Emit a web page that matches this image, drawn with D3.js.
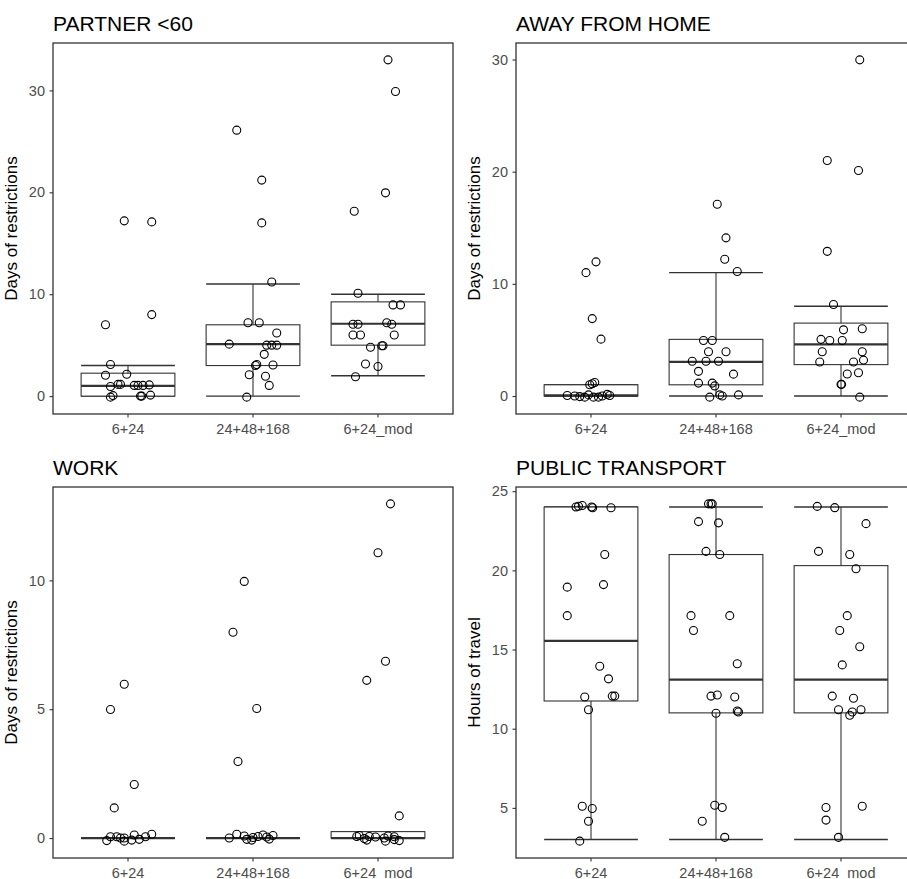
<!DOCTYPE html>
<html>
<head>
<meta charset="utf-8">
<script src="https://cdn.jsdelivr.net/npm/d3@7"></script>
<style>
  body { margin: 0; background: #fff; }
  svg text { font-family: "Liberation Sans", Arial, sans-serif; }
</style>
</head>
<body>
<div id="canvas"></div>
<script>
// categories shared by all four panels
const groups = ["6+24", "24+48+168", "6+24_mod"];

// PARTNER <60 : values and horizontal jitter (in category widths)
const partnerVals = [
  [17.2, 17.1, 7.0, 8.0, 3.1, 2.05, 2.15, 0.95, 1.15, 1.15, 1.05, 1.05, 1.05, 1.1, -0.1, 0.05, 0.0, 0.0, 0.1],
  [26.1, 21.2, 17.0, 11.2, 7.2, 7.2, 6.2, 5.1, 5.0, 5.0, 5.0, 4.1, 3.0, 3.1, 3.05, 2.1, 1.95, 1.05, -0.1],
  [33.0, 29.9, 19.95, 18.15, 10.1, 8.95, 8.95, 7.05, 7.05, 7.2, 7.05, 6.0, 6.0, 6.0, 4.8, 4.95, 4.95, 3.15, 2.9, 1.9]
];
const partnerJit = [
  [-0.03, 0.19, -0.18, 0.19, -0.14, -0.18, -0.01, -0.14, -0.08, -0.06, 0.05, 0.08, 0.12, 0.17, -0.14, -0.12, 0.10, 0.11, 0.18],
  [-0.13, 0.07, 0.07, 0.15, -0.04, 0.05, 0.19, -0.19, 0.11, 0.15, 0.19, 0.09, 0.02, 0.03, 0.16, -0.03, 0.10, 0.13, -0.05],
  [0.08, 0.14, 0.06, -0.19, -0.16, 0.12, 0.18, -0.2, -0.16, 0.07, 0.11, -0.2, -0.14, 0.13, -0.06, 0.03, 0.04, -0.1, 0.0, -0.18]
];
// [lower whisker, q1, median, q3, upper whisker]
const partnerBox = [[0, 0, 1, 2.25, 3], [0, 3, 5.1, 7, 11], [2, 5, 7.1, 9.25, 10]];

// AWAY FROM HOME
const awayVals = [
  [11.96, 11.0, 6.9, 5.07, 1.0, 1.1, 1.2, 0.05, 0.0, -0.05, -0.1, 0.1, -0.1, -0.1, 0.0, 0.15, 0.05],
  [17.1, 14.1, 12.2, 11.1, 4.95, 4.95, 3.95, 3.95, 3.1, 3.1, 3.1, 2.2, 1.95, 1.15, 1.15, 0.9, -0.1, 0.1, 0.0, 0.1],
  [29.97, 21.0, 20.1, 12.9, 8.16, 5.9, 6.0, 5.05, 4.95, 4.95, 3.95, 3.95, 3.03, 3.03, 3.2, 1.96, 2.08, 1.04, 1.04, -0.1]
];
const awayJit = [
  [0.04, -0.04, 0.01, 0.08, -0.01, 0.01, 0.03, -0.19, -0.13, -0.09, -0.05, -0.02, 0.02, 0.06, 0.09, 0.13, 0.15],
  [0.01, 0.08, 0.07, 0.17, -0.1, -0.03, -0.06, 0.08, -0.19, -0.08, 0.02, -0.14, 0.14, -0.14, -0.03, -0.01, -0.05, 0.03, 0.05, 0.18],
  [0.15, -0.11, 0.14, -0.11, -0.06, 0.02, 0.17, -0.16, -0.09, 0.01, -0.15, 0.17, -0.17, 0.1, 0.18, 0.05, 0.14, 0.0, 0.005, 0.15]
];
const awayBox = [[0, 0, 0.05, 1, 1], [0, 1, 3.05, 5.05, 11], [0, 2.8, 4.6, 6.5, 8]];

// WORK
const workVals = [
  [5.97, 4.99, 2.08, 1.17, -0.1, 0.05, 0.05, 0.0, -0.12, -0.08, 0.12, 0.05, 0.15, 0.0, -0.05],
  [9.96, 7.99, 5.03, 2.97, 0.0, 0.15, 0.08, -0.05, -0.08, 0.06, 0.12, 0.04, -0.04, 0.1, 0.02],
  [12.97, 11.07, 6.86, 6.12, 0.86, 0.06, 0.1, -0.02, -0.08, 0.06, 0.04, 0.0, -0.12, 0.08, 0.05, -0.06, -0.1]
];
const workJit = [
  [-0.03, -0.14, 0.05, -0.11, -0.17, -0.14, -0.09, -0.03, -0.03, 0.03, 0.05, 0.14, 0.19, -0.06, 0.09],
  [-0.07, -0.16, 0.03, -0.12, -0.19, -0.13, -0.07, -0.05, -0.01, 0.04, 0.08, 0.11, 0.13, 0.16, 0.0],
  [0.1, 0.0, 0.06, -0.09, 0.17, -0.17, -0.15, -0.11, -0.09, -0.07, -0.02, 0.05, 0.06, 0.08, 0.13, 0.13, 0.17]
];
const workBox = [[0, 0, 0, 0, 0], [0, 0, 0, 0, 0], [0, 0, 0, 0.25, 0]];

// PUBLIC TRANSPORT
const transportVals = [
  [24.0, 24.05, 24.1, 24.0, 23.95, 23.95, 21.0, 19.1, 18.94, 17.14, 13.94, 13.15, 12.0, 12.06, 12.06, 11.2, 5.1, 4.96, 4.16, 2.9],
  [24.2, 24.2, 24.2, 23.08, 23.0, 21.2, 21.0, 17.14, 17.14, 16.2, 14.1, 12.06, 12.13, 12.0, 10.98, 11.12, 11.06, 5.17, 5.02, 4.16, 3.14],
  [24.04, 23.96, 22.95, 21.2, 21.0, 20.1, 17.14, 16.2, 15.18, 14.03, 12.06, 11.92, 11.2, 11.2, 11.06, 10.85, 5.02, 5.1, 4.23, 3.14]
];
const transportJit = [
  [-0.12, -0.1, -0.07, 0.005, 0.013, 0.16, 0.11, 0.1, -0.19, -0.19, 0.07, 0.14, -0.05, 0.17, 0.19, -0.02, -0.07, 0.01, -0.02, -0.09],
  [-0.06, -0.04, -0.03, -0.14, 0.02, -0.08, 0.03, -0.2, 0.11, -0.18, 0.17, -0.04, 0.01, 0.15, 0.0, 0.17, 0.18, -0.01, 0.05, -0.11, 0.07],
  [-0.19, -0.05, 0.2, -0.18, 0.07, 0.12, 0.05, -0.01, 0.15, 0.01, -0.07, 0.10, -0.02, 0.16, 0.09, 0.07, -0.12, 0.17, -0.12, -0.02]
];
const transportBox = [[3, 11.75, 15.55, 24, 24], [3, 11, 13.1, 21, 24], [3, 11, 13.1, 20.3, 24]];

// tick labels
const ticksPartner = [0, 10, 20, 30];
const ticksAway = [0, 10, 20, 30];
const ticksWork = [0, 5, 10];
const ticksTransport = [5, 10, 15, 20, 25];

const panels = [
  { title: "PARTNER <60", ylab: "Days of restrictions", vals: partnerVals, jit: partnerJit, box: partnerBox, ticks: ticksPartner, col: 0, row: 0 },
  { title: "AWAY FROM HOME", ylab: "Days of restrictions", vals: awayVals, jit: awayJit, box: awayBox, ticks: ticksAway, col: 1, row: 0 },
  { title: "WORK", ylab: "Days of restrictions", vals: workVals, jit: workJit, box: workBox, ticks: ticksWork, col: 0, row: 1 },
  { title: "PUBLIC TRANSPORT", ylab: "Hours of travel", vals: transportVals, jit: transportJit, box: transportBox, ticks: ticksTransport, col: 1, row: 1 }
];

const W = 907, H = 879;
const colLeft = [53, 516], rowTop = [43, 487];
const pw = 400, ph = 371;
const lineCol = "#333333";

const svg = d3.select("#canvas")
  .append("svg")
  .attr("width", W)
  .attr("height", H);

panels.forEach(p => {
  const g = svg.append("g")
    .attr("transform", `translate(${colLeft[p.col]},${rowTop[p.row]})`);

  const x = d3.scaleBand()
    .domain(groups)
    .range([0, pw])
    .paddingInner(0)
    .paddingOuter(0.1);
  const step = x.step();
  const cx = gname => x(gname) + x.bandwidth() / 2;

  const all = p.vals.flat().concat(p.box.flat());
  const ext = d3.extent(all);
  const pad = (ext[1] - ext[0]) * 0.05;
  const y = d3.scaleLinear()
    .domain([ext[0] - pad, ext[1] + pad])
    .range([ph, 0]);

  // title
  g.append("text")
    .attr("x", 0)
    .attr("y", -12)
    .attr("font-size", 21)
    .attr("fill", "#000")
    .text(p.title);

  // y axis title
  g.append("text")
    .attr("transform", `translate(-36,${ph / 2}) rotate(-90)`)
    .attr("text-anchor", "middle")
    .attr("font-size", 17)
    .attr("fill", "#000")
    .text(p.ylab);

  const plot = g.append("g");

  // whiskers + caps
  const bw = step * 0.75;
  groups.forEach((gname, i) => {
    const [lo, q1, med, q3, hi] = p.box[i];
    const c = cx(gname);
    plot.append("line")
      .attr("x1", c).attr("x2", c)
      .attr("y1", y(lo)).attr("y2", y(hi))
      .attr("stroke", lineCol).attr("stroke-width", 1.1);
    [lo, hi].forEach(v => {
      plot.append("line")
        .attr("x1", c - bw / 2).attr("x2", c + bw / 2)
        .attr("y1", y(v)).attr("y2", y(v))
        .attr("stroke", lineCol).attr("stroke-width", 1.4);
    });
    plot.append("rect")
      .attr("x", c - bw / 2)
      .attr("y", y(q3))
      .attr("width", bw)
      .attr("height", Math.max(0, y(q1) - y(q3)))
      .attr("fill", "#fff")
      .attr("stroke", lineCol)
      .attr("stroke-width", 1.1);
    plot.append("line")
      .attr("x1", c - bw / 2).attr("x2", c + bw / 2)
      .attr("y1", y(med)).attr("y2", y(med))
      .attr("stroke", lineCol).attr("stroke-width", 2.2);
  });

  // points
  groups.forEach((gname, i) => {
    plot.append("g")
      .selectAll("circle")
      .data(p.vals[i].map((v, k) => ({ v: v, j: p.jit[i][k] })))
      .join("circle")
      .attr("cx", d => cx(gname) + d.j * step)
      .attr("cy", d => y(d.v))
      .attr("r", 4)
      .attr("fill", "none")
      .attr("stroke", "#000")
      .attr("stroke-width", 1.1);
  });

  // frame
  g.append("rect")
    .attr("width", pw)
    .attr("height", ph)
    .attr("fill", "none")
    .attr("stroke", lineCol)
    .attr("stroke-width", 1.3);

  // axes
  const ya = g.append("g")
    .call(d3.axisLeft(y).tickValues(p.ticks).tickSize(3.5).tickPadding(4.5));
  const xa = g.append("g")
    .attr("transform", `translate(0,${ph})`)
    .call(d3.axisBottom(x).tickSize(3.5).tickPadding(6));
  [ya, xa].forEach(a => {
    a.select(".domain").remove();
    a.selectAll(".tick line").attr("stroke", lineCol).attr("stroke-width", 1.1);
    a.selectAll(".tick text")
      .attr("fill", "#4d4d4d")
      .attr("font-size", 14.5)
      .attr("font-family", "Liberation Sans, Arial, sans-serif");
  });
});
</script>
</body>
</html>
